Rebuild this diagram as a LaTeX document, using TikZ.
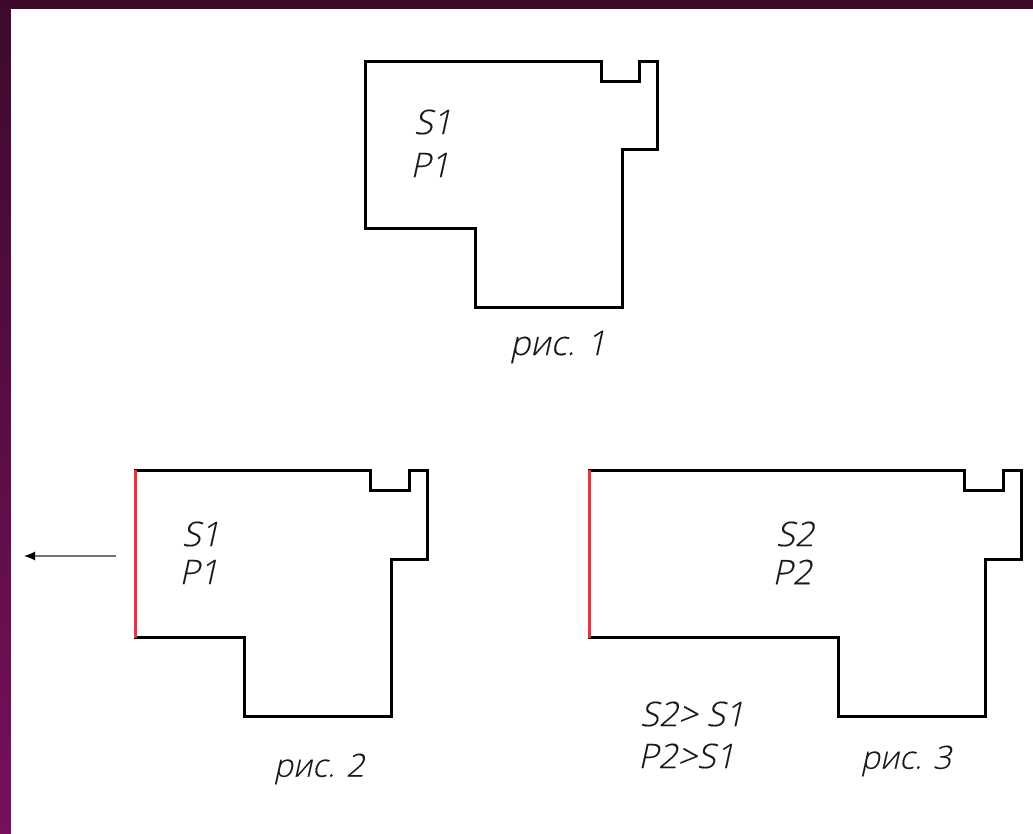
\documentclass[tikz,border=0pt]{standalone}
\usepackage{fontspec}
\usetikzlibrary{arrows.meta}
\newfontfamily\gost[FakeSlant=0.22,FakeBold=0.25]{Open Sans Light}
\definecolor{bgtop}{HTML}{3D0A2C}
\definecolor{bgbot}{HTML}{78105C}
\definecolor{redwall}{HTML}{D83A44}
\tikzset{
  x=1pt,y=-1pt,
  outline/.style={draw=black,line width=3pt,line join=miter},
  wall/.style={draw=redwall,line width=3pt},
  lab/.style={font=\gost\fontsize{34}{34}\selectfont,inner sep=0pt,text=black!90},
  capt/.style={font=\gost\fontsize{32}{32}\selectfont,inner sep=0pt,text=black!90},
}
\begin{document}
\begin{tikzpicture}
\useasboundingbox (0,0) rectangle (1033,834);
\shade[top color=bgtop,bottom color=bgbot] (0,0) rectangle (1033,834);
\fill[white] (11,9) rectangle (1033,834);
% figure 1
\draw[outline] (365.5,61.7) -- (601,61.7) -- (601,81.5) -- (639.5,81.5) -- (639.5,61.7) -- (657.7,61.7) -- (657.7,149.3) -- (622,149.3) -- (622,307) -- (475,307) -- (475,229) -- (365.5,229) -- cycle;
\node[lab] (s1a) at (433,122) {S1};
\node[lab] (p1a) at (430,165) {P1};
\node[lab] (c1) at (558,347) {рис. 1};
% figure 2
\draw[outline] (135.5,637.5) -- (135.5,470) -- (370,470) -- (370,490) -- (409,490) -- (409,470) -- (427.7,470) -- (427.7,559) -- (391,559) -- (391,716) -- (244,716) -- (244,637.5) -- cycle;
\draw[wall] (135.5,470) -- (135.5,637.5);
\node[lab] (s1b) at (201,534) {S1};
\node[lab] (p1b) at (199,572) {P1};
\node[capt] (c2) at (319,769) {рис. 2};
\coordinate (afrom) at (116,556);
\coordinate (ato) at (24,556);
\draw[draw=black!55,line width=1.2pt,-{Latex[length=11pt,width=9pt,black]}] (afrom) -- (ato);
% figure 3
\draw[outline] (589.5,637.5) -- (589.5,470) -- (964,470) -- (964,490) -- (1003,490) -- (1003,470) -- (1021.7,470) -- (1021.7,559) -- (985,559) -- (985,716) -- (838,716) -- (838,637.5) -- cycle;
\draw[wall] (589.5,470) -- (589.5,637.5);
\node[lab] (s2) at (795,534) {S2};
\node[lab] (p2) at (792,572) {P2};
\node[lab,anchor=west] (cmp1) at (640,714) {S2> S1};
\node[lab,anchor=west] (cmp2) at (638,756) {P2>S1};
\node[capt] (c3) at (906,761) {рис. 3};
\end{tikzpicture}
\end{document}
